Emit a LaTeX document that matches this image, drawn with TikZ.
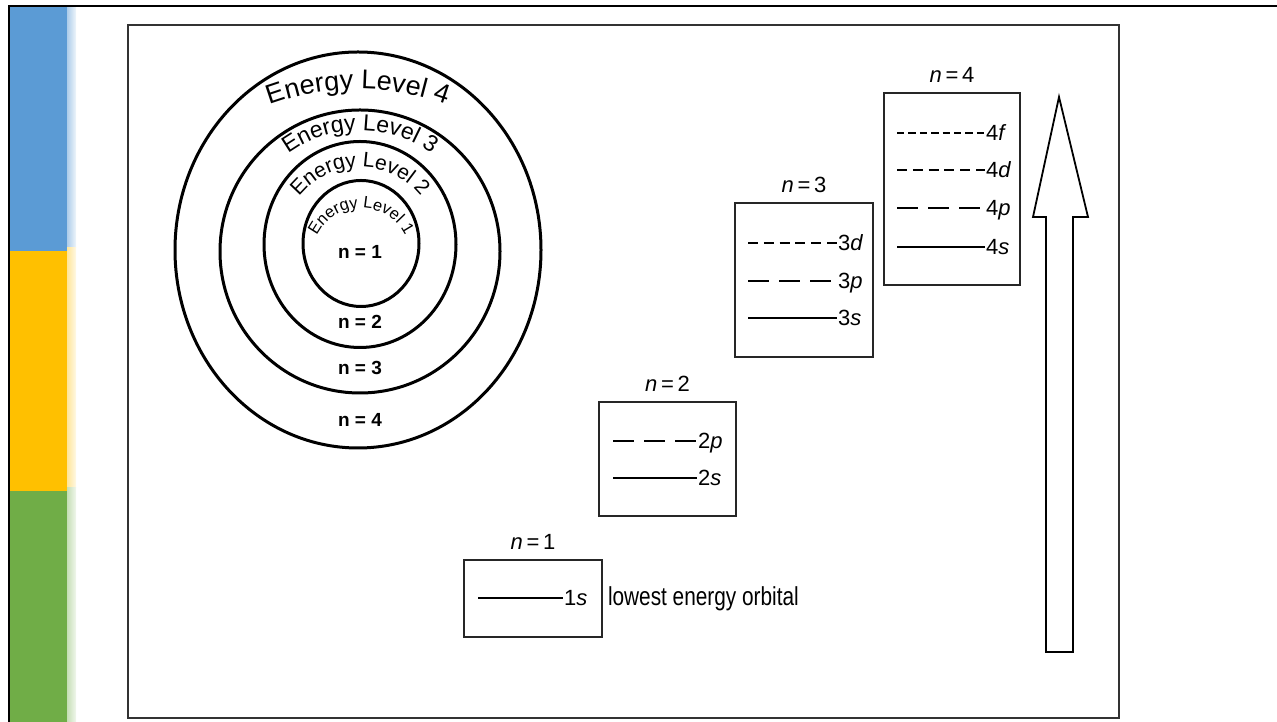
\documentclass[tikz,border=0pt]{standalone}
\usepackage{fontspec}
\setmainfont{Liberation Sans}
\newfontfamily\narrowsf[FakeStretch=0.8]{Liberation Sans}
\usetikzlibrary{positioning,decorations.text}

\definecolor{barblue}{HTML}{5B9BD5}
\definecolor{baryellow}{HTML}{FFC000}
\definecolor{bargreen}{HTML}{70AD47}

\tikzset{
	shell/.style = {line width = 3pt},
	shellnum/.style = {font = \bfseries\fontsize{19}{19}\selectfont, inner sep = 1pt},
	lvlbox/.style = {draw = black!85, line width = 1.6pt, inner sep = 0pt},
	nlab/.style = {font = \fontsize{22}{22}\selectfont, inner sep = 1pt, text depth = 0pt},
	orblab/.style = {font = \fontsize{22}{22}\selectfont, anchor = west, inner sep = 1pt, text height = 15.8pt, text depth = 0pt},
	orbs/.style = {line width = 1.8pt},
	orbp/.style = {line width = 2.6pt, dash pattern = on 21pt off 10pt},
	orbd/.style = {line width = 1.8pt, dash pattern = on 10pt off 5.8pt},
	orbf/.style = {line width = 2.4pt, dash pattern = on 7.4pt off 4pt}
}

\begin{document}
\begin{tikzpicture}[x = 1pt, y = 1pt]
\useasboundingbox (0,0) rectangle (1277,722);

% side bars
\fill[barblue] (10,471) rectangle (67,716);
\fill[baryellow] (10,231) rectangle (67,471);
\fill[bargreen] (10,0) rectangle (67,231);
\shade[left color = barblue!50, right color = barblue!10] (67,474) rectangle (76,716);
\shade[left color = baryellow!40, right color = baryellow!10] (67,234) rectangle (76,474);
\shade[left color = bargreen!40, right color = bargreen!10] (67,0) rectangle (76,234);
\draw[line width = 2.5pt] (9,0) -- (9,716) -- (1277,716);

% frame
\draw[line width = 2pt, black!80] (128,4) rectangle (1119,697);

% shells
\draw[shell] (358,472) ellipse [x radius = 183pt, y radius = 198pt];
\draw[shell] (360,470.5) ellipse [x radius = 140pt, y radius = 141.5pt];
\draw[shell] (360,477.5) ellipse [x radius = 96pt, y radius = 103pt];
\draw[shell] (361,478.5) ellipse [x radius = 58pt, y radius = 63pt];

\path[decorate, decoration = {text along path, text align = center,
	text = {|\fontsize{27}{27}\selectfont|Energy Level 4}}]
	(358,380) ++(118:253pt) arc [start angle = 118, end angle = 62, radius = 253pt];
\path[decorate, decoration = {text along path, text align = center,
	text = {|\fontsize{23}{23}\selectfont|Energy Level 3}}]
	(360,470.5) ++(135:121pt) arc [start angle = 135, end angle = 45, radius = 121pt];
\path[decorate, decoration = {text along path, text align = center,
	text = {|\fontsize{21}{21}\selectfont|Energy Level 2}}]
	(360,477) ++(155:78pt) arc [start angle = 155, end angle = 25, radius = 78pt];
\path[decorate, decoration = {text along path, text align = center,
	text = {|\fontsize{16.5}{16.5}\selectfont|Energy Level 1}}]
	(361,465) ++(175:49pt) arc [start angle = 175, end angle = 5, radius = 49pt];

\node[shellnum] (sn1) at (360,470) {n = 1};
\node[shellnum] (sn2) at (360,400) {n = 2};
\node[shellnum] (sn3) at (360,354) {n = 3};
\node[shellnum] (sn4) at (360,302) {n = 4};

% level boxes
\node[lvlbox, minimum width = 138pt, minimum height = 77pt] (box1) at (533,123.5) {};
\node[lvlbox, minimum width = 137pt, minimum height = 114pt] (box2) at (667.5,263) {};
\node[lvlbox, minimum width = 138pt, minimum height = 154pt] (box3) at (804,442) {};
\node[lvlbox, minimum width = 136pt, minimum height = 192pt] (box4) at (952,533) {};

\foreach \k in {1,...,4}
{
	\node[nlab, above = 8pt of box\k] (nl\k) {\textit{n}\,=\,\k};
}

\foreach \nm/\xa/\xb/\y/\sty/\n/\l in {1s/478/563/124/orbs/1/s,
	2p/613/697/281/orbp/2/p, 2s/613/697/244/orbs/2/s,
	3d/748/837/479/orbd/3/d, 3p/748/837/441/orbp/3/p, 3s/748/837/404/orbs/3/s,
	4f/897/985/589/orbf/4/f, 4d/897/985/552/orbd/4/d, 4p/897/985/514/orbp/4/p, 4s/897/985/475/orbs/4/s}
{
	\coordinate (o\nm) at (\xa,\y);
	\node[orblab] (l\nm) at (\xb,\y) {\n\textit{\l}};
	\draw[\sty] (o\nm) -- (l\nm.west);
}

\node[font = \narrowsf\fontsize{26}{26}\selectfont, anchor = west, inner sep = 0pt, right = 5pt of box1] (lowest) {lowest energy orbital};

% energy arrow
\draw[line width = 1.8pt, line join = miter] (1046,70) -- (1073,70) -- (1073,505) -- (1088,505)
	-- (1059,625) -- (1033,505) -- (1046,505) -- cycle;
\end{tikzpicture}
\end{document}
